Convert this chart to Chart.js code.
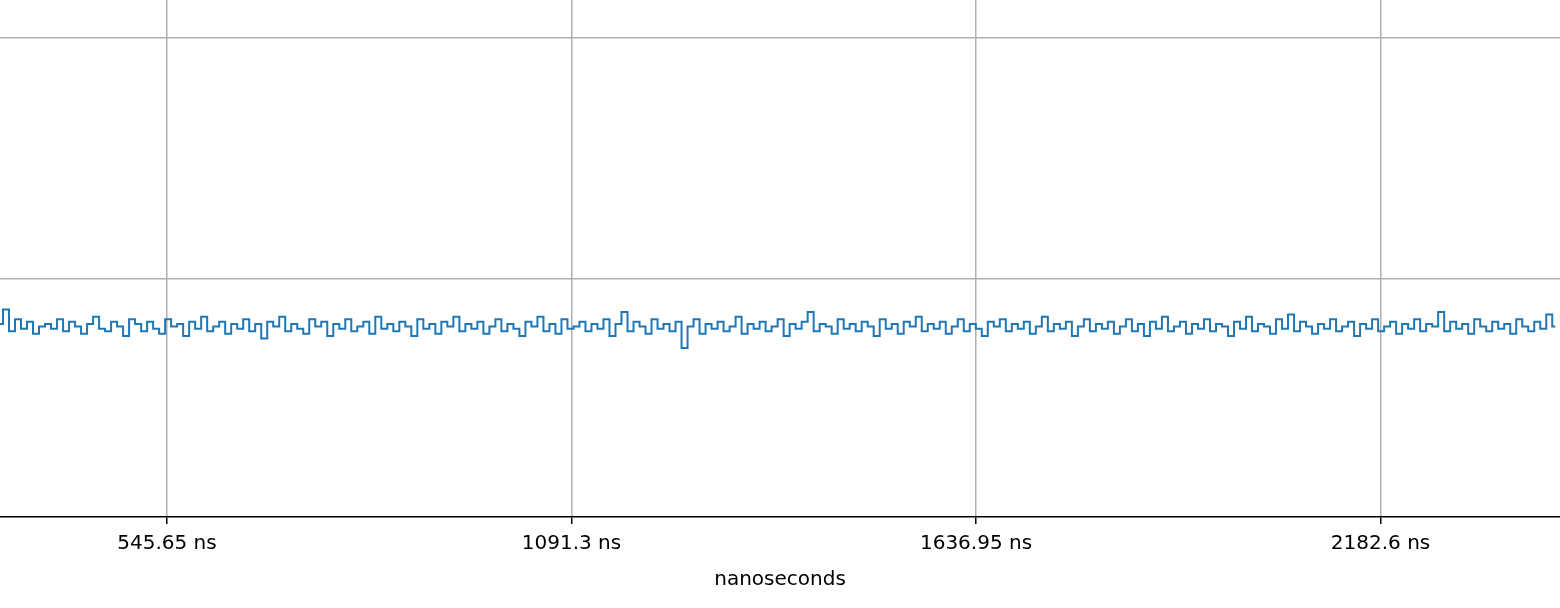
<!DOCTYPE html>
<html>
<head>
<meta charset="utf-8">
<script src="https://cdn.jsdelivr.net/npm/chart.js@4"></script>
<style>
  html, body { margin: 0; padding: 0; background: #fff; }
  #wrap { width: 1560px; height: 608px; }
</style>
</head>
<body>
<div id="wrap"><canvas id="chart"></canvas></div>
<script>
// sampled trace: first sample time and sample interval (ns)
const startTime = 320.4;
const sampleStep = 8.1;
const tickValues = [545.65, 1091.3, 1636.95, 2182.6];
const yGrid = [0, 1];

// signal values (arbitrary units)
const signal = [
  -0.19, -0.13, -0.22, -0.17, -0.21, -0.18, -0.23, -0.20, -0.19, -0.21, -0.17, -0.22, -0.18, -0.20, -0.23, -0.19, -0.16, -0.21, -0.22, -0.18,
  -0.20, -0.24, -0.17, -0.19, -0.22, -0.18, -0.21, -0.23, -0.17, -0.20, -0.19, -0.24, -0.18, -0.21, -0.16, -0.22, -0.20, -0.18, -0.23, -0.19,
  -0.21, -0.17, -0.22, -0.19, -0.25, -0.18, -0.20, -0.16, -0.22, -0.19, -0.21, -0.23, -0.17, -0.20, -0.18, -0.24, -0.19, -0.21, -0.17, -0.22,
  -0.20, -0.18, -0.23, -0.16, -0.21, -0.19, -0.22, -0.18, -0.20, -0.24, -0.17, -0.21, -0.19, -0.23, -0.18, -0.20, -0.16, -0.22, -0.19, -0.21,
  -0.18, -0.23, -0.20, -0.17, -0.22, -0.19, -0.21, -0.24, -0.18, -0.20, -0.16, -0.22, -0.19, -0.23, -0.17, -0.21, -0.20, -0.18, -0.22, -0.19,
  -0.21, -0.17, -0.24, -0.19, -0.14, -0.22, -0.18, -0.20, -0.23, -0.17, -0.21, -0.19, -0.22, -0.18, -0.29, -0.20, -0.17, -0.23, -0.19, -0.21,
  -0.18, -0.22, -0.20, -0.16, -0.23, -0.19, -0.21, -0.18, -0.22, -0.20, -0.17, -0.24, -0.19, -0.21, -0.18, -0.14, -0.22, -0.19, -0.20, -0.23,
  -0.17, -0.21, -0.19, -0.22, -0.18, -0.20, -0.24, -0.17, -0.21, -0.19, -0.23, -0.18, -0.20, -0.16, -0.22, -0.19, -0.21, -0.18, -0.23, -0.20,
  -0.17, -0.22, -0.19, -0.21, -0.24, -0.18, -0.20, -0.17, -0.22, -0.19, -0.21, -0.18, -0.23, -0.20, -0.16, -0.22, -0.19, -0.21, -0.18, -0.24,
  -0.20, -0.17, -0.22, -0.19, -0.21, -0.18, -0.23, -0.20, -0.17, -0.22, -0.19, -0.24, -0.18, -0.21, -0.16, -0.22, -0.20, -0.18, -0.23, -0.19,
  -0.21, -0.17, -0.22, -0.19, -0.20, -0.24, -0.18, -0.21, -0.16, -0.22, -0.19, -0.20, -0.23, -0.17, -0.21, -0.15, -0.22, -0.18, -0.20, -0.23,
  -0.19, -0.21, -0.17, -0.22, -0.20, -0.18, -0.24, -0.19, -0.21, -0.17, -0.22, -0.20, -0.18, -0.23, -0.19, -0.21, -0.17, -0.22, -0.19, -0.20,
  -0.14, -0.22, -0.18, -0.21, -0.19, -0.23, -0.17, -0.20, -0.22, -0.18, -0.21, -0.19, -0.23, -0.17, -0.20, -0.22, -0.18, -0.21, -0.15, -0.20
];

const points = signal.map((v, i) => ({ x: startTime + i * sampleStep, y: v }));

new Chart(document.getElementById("chart"), {
  type: "line",
  data: {
    datasets: [{
      data: points,
      borderColor: "#1f77b4",
      borderWidth: 2,
      pointRadius: 0,
      tension: 0,
      stepped: "middle",
    }],
  },
  options: {
    responsive: true,
    maintainAspectRatio: false,
    animation: false,
    layout: { padding: 0 },
    plugins: { legend: { display: false }, tooltip: { enabled: false } },
    scales: {
      x: {
        type: "linear",
        min: 320.4,
        max: 2424.7,
        afterBuildTicks: (axis) => { axis.ticks = tickValues.map((v) => ({ value: v })); },
        ticks: {
          color: "#000",
          font: { family: "DejaVu Sans", size: 20 },
          padding: 8,
          maxRotation: 0,
          callback: (v) => v + " ns",
        },
        grid: { color: "#b0b0b0", lineWidth: 1.5, tickColor: "#000", tickLength: 7, tickWidth: 1.5 },
        border: { color: "#000", width: 1.5 },
        title: {
          display: true,
          text: "nanoseconds",
          color: "#000",
          font: { family: "DejaVu Sans", size: 20 },
          padding: { top: 4, bottom: 16 },
        },
      },
      y: {
        min: -0.992,
        max: 1.157,
        afterBuildTicks: (axis) => { axis.ticks = yGrid.map((v) => ({ value: v })); },
        ticks: { display: false },
        grid: { color: "#b0b0b0", lineWidth: 1.5, drawTicks: false },
        border: { display: false },
      },
    },
  },
});
</script>
</body>
</html>
